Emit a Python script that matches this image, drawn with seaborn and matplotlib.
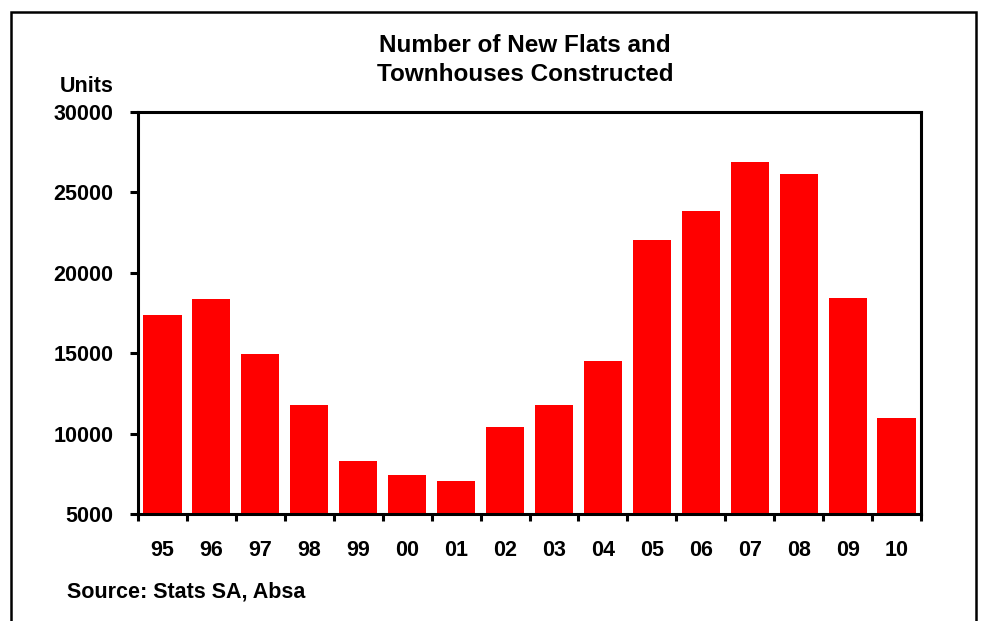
import matplotlib
matplotlib.use("Agg")
import matplotlib.pyplot as plt
import seaborn as sns
import pandas as pd
from matplotlib.patches import Rectangle

years = ["95", "96", "97", "98", "99", "00", "01", "02", "03", "04", "05", "06", "07", "08", "09", "10"]
units = [17380, 18350, 14950, 11780, 8280, 7450, 7030, 10410, 11780, 14530, 22040, 23820, 26890, 26140, 18430, 10950]
yticks = [5000, 10000, 15000, 20000, 25000, 30000]

sns.set_theme(style="white")
plt.rcParams['font.family'] = ['Liberation Sans', 'DejaVu Sans']
plt.rcParams['font.weight'] = 'bold'
plt.rcParams['text.color'] = 'black'
plt.rcParams['xtick.color'] = 'black'
plt.rcParams['ytick.color'] = 'black'

df = pd.DataFrame({"year": years, "units": units})

fig = plt.figure(figsize=(9.81, 6.21), dpi=100)
ax = fig.add_axes([138/981, 1-514/621, (921-138)/981, 402/621])

sns.barplot(data=df, x="year", y="units", color="#FF0000", saturation=1,
            width=0.78, ax=ax, linewidth=0)

ax.set_ylim(5000, 30000)
ax.set_xlim(-0.5, len(years) - 0.5)
ax.set_yticks(yticks)
ax.set_yticklabels([str(v) for v in yticks], fontsize=15.5, fontweight='bold', color='black')
ax.set_xlabel("")
ax.set_ylabel("")

# tick marks at category boundaries, labels centred under bars
ax.set_xticks([i - 0.5 for i in range(len(years) + 1)])
ax.set_xticklabels([])
ax.set_xticks(range(len(years)), minor=True)
ax.set_xticklabels(years, minor=True, fontsize=15.5, fontweight='bold', color='black')
ax.tick_params(axis='x', which='major', direction='out', length=5, width=2.2, color='black', bottom=True)
ax.tick_params(axis='x', which='minor', length=0, pad=19)
ax.tick_params(axis='y', direction='out', length=6, width=2.2, color='black', left=True, pad=11.5)

for s in ax.spines.values():
    s.set_visible(True)
    s.set_color('black')
    s.set_linewidth(2.2)

fig.text(525/981, 1-60/621, "Number of New Flats and\nTownhouses Constructed",
         ha='center', va='center', fontsize=17.5, fontweight='bold', linespacing=1.38,
         color='black')
fig.text(114/981, 1-87/621, "Units", ha='right', va='center', fontsize=15.5,
         fontweight='bold', color='black')
fig.text(67/981, 1-592/621, "Source: Stats SA, Absa", ha='left', va='center',
         fontsize=15.5, fontweight='bold', color='black')

# outer frame (bottom edge lies below the image)
fig.patches.append(Rectangle((11/981, -0.1), (976-11)/981, 1.1 - 12/621,
                             transform=fig.transFigure, fill=False,
                             edgecolor='black', linewidth=1.8))

fig.savefig("out.png", dpi=100)
